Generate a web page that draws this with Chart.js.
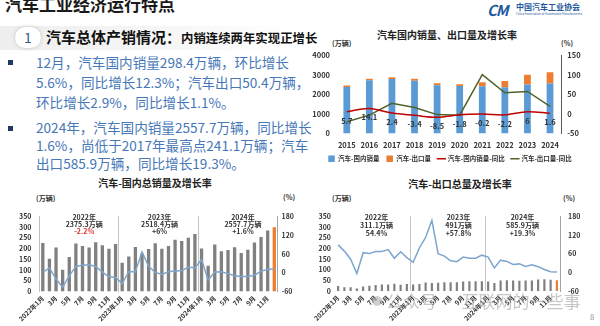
<!DOCTYPE html>
<html>
<head>
<meta charset="utf-8">
<script src="https://cdn.jsdelivr.net/npm/chart.js@4.4.1/dist/chart.umd.min.js"></script>
<style>
body{margin:0;width:600px;height:326px;background:#fff;position:relative;overflow:hidden;font-family:'Noto Sans CJK SC','Noto Sans',sans-serif;}
.abs{position:absolute;white-space:nowrap;}
canvas{position:absolute;}
.para{position:absolute;left:36px;color:#4677b8;font-size:13.6px;white-space:nowrap;}
.bul{position:absolute;left:8px;width:5px;height:5px;background:#1f3864;}
.ttl{position:absolute;font-size:10px;font-weight:bold;color:#222;white-space:nowrap;transform:translateX(-50%);}
.unit{position:absolute;font-size:7px;font-weight:bold;color:#333;white-space:nowrap;}
</style>
</head>
<body>
<div class="abs" style="left:5px;top:-6px;font-size:17px;font-weight:bold;color:#1a1a1a;line-height:20px;">汽车工业经济运行特点</div>
<div class="abs" style="left:0;top:26px;width:300px;height:24px;background:linear-gradient(to right,#eeeeee,#f7f7f7 60%,#ffffff);"></div>
<div class="abs" style="left:15px;top:27px;width:26px;height:21px;border-radius:11px;background:#fff;box-shadow:0 0 4px rgba(0,0,0,0.18);"></div>
<div class="abs" style="left:24px;top:28px;font-size:14px;color:#3a5a8a;line-height:18px;">1</div>
<div class="abs" style="left:46px;top:28px;font-size:15px;font-weight:bold;color:#111;line-height:18px;">汽车总体产销情况：<span style="font-size:12.4px;">内销连续两年实现正增长</span></div>

<div class="bul" style="top:60px;"></div>
<div class="para" style="top:52px;line-height:20px;color:#4677b8;">12月，汽车国内销量298.4万辆，环比增长<br>5.6%，同比增长12.3%；汽车出口50.4万辆，<br>环比增长2.9%，同比增长1.1%。</div>
<div class="bul" style="top:126px;"></div>
<div class="para" style="top:118px;line-height:18px;color:#4677b8;">2024年，汽车国内销量2557.7万辆，同比增长<br>1.6%，尚低于2017年最高点241.1万辆；汽车<br>出口585.9万辆，同比增长19.3%。</div>

<div class="abs" style="left:487px;top:-1px;font-size:15px;font-weight:bold;font-style:italic;color:#1f5a9e;letter-spacing:-1px;">CM</div>
<div class="abs" style="left:516px;top:1px;font-size:8px;font-weight:bold;color:#1f5a9e;">中国汽车工业协会</div>
<div class="abs" style="left:516px;top:12px;font-size:3px;color:#1f5a9e;">China Association of Automobile Manufacturers</div>

<div class="ttl" style="left:447px;top:27px;">汽车国内销量、出口量及增长率</div>
<div class="unit" style="left:332px;top:38px;">(万辆)</div>
<div class="unit" style="left:561px;top:38px;">(%)</div>
<canvas id="topChart" width="300" height="127" style="left:300px;top:45px;"></canvas>

<div class="ttl" style="left:155px;top:175px;">汽车-国内总销量及增长率</div>
<div class="unit" style="left:36px;top:193px;">(万辆)</div>
<div class="unit" style="left:283px;top:192px;">(%)</div>
<canvas id="domChart" width="300" height="122" style="left:0px;top:204px;"></canvas>

<div class="ttl" style="left:460px;top:176px;">汽车-出口总量及增长率</div>
<div class="unit" style="left:332px;top:193px;">(万辆)</div>
<div class="unit" style="left:563px;top:193px;">(%)</div>
<canvas id="expChart" width="300" height="122" style="left:300px;top:204px;"></canvas>

<div class="abs" style="left:372px;top:296px;width:10px;height:10px;border-radius:5px;background:rgba(170,170,170,0.55);"></div>
<div class="abs" style="left:386px;top:290px;font-size:17px;color:rgba(160,160,160,0.6);line-height:22px;">公众号 · 互联网的一些事</div>
<div class="abs" style="left:590px;top:311px;font-size:8px;color:#999;">8</div>

<script>
const FONT = "'Noto Sans CJK SC','Noto Sans',sans-serif";
Chart.defaults.font.family = FONT;
Chart.defaults.font.size = 7;
Chart.defaults.font.weight = 'bold';
Chart.defaults.color = '#333';
Chart.defaults.animation = false;

// 年度数据
const years = ['2015','2016','2017','2018','2019','2020','2021','2022','2023','2024'];
const domesticSales = [2387, 2732, 2799, 2704, 2475, 2432, 2426, 2375.3, 2518.4, 2557.7];
const exportSales = [72.8, 70.8, 89.1, 104.1, 102.4, 99.5, 201.5, 311.1, 491, 585.9];
const domesticGrowth = [5.7, 14.1, 2.4, -3.4, -8.5, -1.8, -0.2, -2.2, 6, 1.6];
const exportGrowth = [-20, -3, 27.5, 16.8, -1.6, -2.9, 101.1, 54.4, 57.8, 19.3];

// 月度数据 2022.1 - 2024.12
const monthLabels = [
  '2022年1月','2月','3月','4月','5月','6月','7月','8月','9月','10月','11月','12月',
  '2023年1月','2月','3月','4月','5月','6月','7月','8月','9月','10月','11月','12月',
  '2024年1月','2月','3月','4月','5月','6月','7月','8月','9月','10月','11月','12月'
];
const monthlyDomestic = [
  226, 152, 204, 101, 160, 223, 211, 205, 229, 215, 199, 221,
  134, 163, 207, 178, 197, 224, 199, 212, 240, 235, 250, 267,
  200, 120, 219, 187, 193, 206, 179, 194, 228, 253, 284, 298.4
];
const monthlyDomesticGrowth = [
  1, 15, -20, -46, -10, 20, 24, 25, 20, 2, -13, -15,
  -35, 3, 3, 66, 20, 1, -6, 3, 5, 6, 18, 15,
  42, -23, 2, 3, -3, -10, -12, -12, -8, 5, 10, 12.3
];
const monthlyExport = [
  23.1, 17.9, 17.9, 11.9, 21.0, 24.9, 28.5, 30.8, 30.1, 33.7, 29.3, 33.1,
  30.1, 32.9, 39.4, 37.6, 38.9, 41.1, 40.7, 41.3, 44.4, 45.9, 45.9, 45.9,
  44.3, 37.7, 49.4, 50.2, 49.2, 48.5, 48.6, 49.3, 53.9, 55.2, 52.7, 50.4
];
const monthlyExportGrowth = [
  88, 68, 42, -4, 63, 60, 67, 67, 73, 45, 66, 47,
  32, 78, 112, 167, 60, 52, 37, 34, 49, 45, 45, 55,
  49, 14, 39, 35, 25, 27, 19, 24, 18, 9, 2, 1.1
];
const domesticNotes = [['2022年','2375.3万辆','-2.2%'], ['2023年','2518.4万辆','+6%'], ['2024年','2557.7万辆','+1.6%']];
const exportNotes = [['2022年','311.1万辆','54.4%'], ['2023年','491万辆','+57.8%'], ['2024年','585.9万辆','+19.3%']];

const BLUE = '#5b9bd5', ORANGE = '#ed7d31', RED = '#c00000', GREEN = '#4f6228';
const GRAY = '#808080', LINEBLUE = '#7da6ce';

const fixWidth = w => s => { s.width = w; };
const fixHeight = h => s => { s.height = h; };
const plain = v => v;
const NOGRID = { display: false, drawTicks: false };

// 折线下方的数据标签
const pointLabels = {
  id: 'pointLabels',
  afterDatasetsDraw(chart, args, opts) {
    const ds = chart.data.datasets[opts.datasetIndex];
    const meta = chart.getDatasetMeta(opts.datasetIndex);
    const c = chart.ctx;
    c.save();
    c.font = 'bold 7.5px ' + FONT;
    c.fillStyle = '#333';
    c.textAlign = 'center';
    c.textBaseline = 'middle';
    meta.data.forEach((pt, i) => c.fillText(String(ds.data[i]), pt.x, pt.y + opts.offset));
    c.restore();
  }
};

// 每年的汇总注释
const yearNotes = {
  id: 'yearNotes',
  afterDraw(chart, args, opts) {
    const x = chart.scales.x;
    const top = chart.chartArea.top;
    const c = chart.ctx;
    c.save();
    c.font = 'bold 7px ' + FONT;
    c.textAlign = 'center';
    c.textBaseline = 'middle';
    opts.notes.forEach((lines, k) => {
      const cx = x.getPixelForValue(k * 12 + 5.5) + opts.shift[k];
      lines.forEach((t, j) => {
        c.fillStyle = (j === 2 && opts.red[k]) ? '#e03030' : '#333';
        c.fillText(t, cx, top + opts.dy + j * opts.gap);
      });
    });
    c.restore();
  }
};

const legendSort = (a, b) => a.datasetIndex - b.datasetIndex;

new Chart(document.getElementById('topChart'), {
  type: 'bar',
  plugins: [pointLabels],
  data: {
    labels: years,
    datasets: [
      { label: '汽车-国内销量', data: domesticSales, backgroundColor: BLUE, stack: 's', order: 2, barPercentage: 0.3, categoryPercentage: 1, pointStyle: 'rect' },
      { label: '汽车-出口量', data: exportSales, backgroundColor: ORANGE, stack: 's', order: 2, barPercentage: 0.3, categoryPercentage: 1, pointStyle: 'rect' },
      { type: 'line', label: '汽车-国内销量-同比', data: domesticGrowth, yAxisID: 'y1', borderColor: RED, backgroundColor: RED, borderWidth: 1.5, pointRadius: 0, tension: 0.35, order: 0, pointStyle: 'line' },
      { type: 'line', label: '汽车-出口量-同比', data: exportGrowth, yAxisID: 'y1', borderColor: GREEN, backgroundColor: GREEN, borderWidth: 1.5, pointRadius: 0, tension: 0, order: 1, pointStyle: 'line' }
    ]
  },
  options: {
    responsive: false,
    layout: { padding: { top: 7 } },
    plugins: {
      legend: {
        position: 'bottom',
        labels: { usePointStyle: true, boxHeight: 7, padding: 7, sort: legendSort, font: { size: 6.5 } }
      },
      tooltip: { enabled: false },
      pointLabels: { datasetIndex: 2, offset: 9 }
    },
    scales: {
      x: {
        stacked: true,
        grid: NOGRID,
        border: { display: false },
        ticks: { padding: 7, minRotation: 0, maxRotation: 0, autoSkip: false, font: { size: 7.5 } },
        afterFit: fixHeight(15)
      },
      y: {
        stacked: true,
        min: 0, max: 4000,
        ticks: { stepSize: 1000, padding: 5.5, autoSkip: false, callback: plain, font: { size: 7.5 } },
        grid: NOGRID,
        border: { display: false },
        afterFit: fixWidth(35.5)
      },
      y1: {
        position: 'right',
        min: -50, max: 150,
        ticks: { stepSize: 50, padding: 6, autoSkip: false, callback: plain, font: { size: 7.5 } },
        grid: NOGRID,
        border: { display: true, color: '#595959' },
        afterFit: fixWidth(38.7)
      }
    }
  }
});

const monthTicks = function (v, i) { return i % 2 === 0 ? this.getLabelForValue(v) : ''; };
const sepColor = c => (c.index === 12 || c.index === 24) ? '#c4c4c4' : 'rgba(0,0,0,0)';
const lastOrange = arr => arr.map((v, i) => i === arr.length - 1 ? ORANGE : GRAY);

new Chart(document.getElementById('domChart'), {
  type: 'bar',
  plugins: [yearNotes],
  data: {
    labels: monthLabels,
    datasets: [
      { label: '国内销量', data: monthlyDomestic, backgroundColor: lastOrange(monthlyDomestic), barPercentage: 0.5, categoryPercentage: 1, order: 2 },
      { type: 'line', label: '同比', data: monthlyDomesticGrowth, yAxisID: 'y1', borderColor: LINEBLUE, borderWidth: 1.5, pointRadius: 0, tension: 0, order: 0 }
    ]
  },
  options: {
    responsive: false,
    layout: { padding: { top: 8 } },
    plugins: {
      legend: { display: false },
      tooltip: { enabled: false },
      yearNotes: { notes: domesticNotes, shift: [5, 1, 5], red: [true, false, false], dy: 1, gap: 7.3 }
    },
    scales: {
      x: {
        grid: { offset: true, drawTicks: false, color: sepColor },
        border: { display: false },
        ticks: { autoSkip: false, minRotation: 45, maxRotation: 45, padding: 3, font: { size: 6.5 }, callback: monthTicks },
        afterFit: fixHeight(34.5)
      },
      y: {
        min: 0, max: 350,
        ticks: { stepSize: 50, padding: 8, autoSkip: false, callback: plain },
        grid: NOGRID,
        border: { display: true, color: '#bfbfbf' },
        afterFit: fixWidth(39.5)
      },
      y1: {
        position: 'right',
        min: -60, max: 180,
        ticks: { stepSize: 60, padding: 4, autoSkip: false, callback: plain },
        grid: NOGRID,
        border: { display: true, color: '#a6a6a6' },
        afterFit: fixWidth(22.4)
      }
    }
  }
});

new Chart(document.getElementById('expChart'), {
  type: 'bar',
  plugins: [yearNotes],
  data: {
    labels: monthLabels,
    datasets: [
      { label: '出口量', data: monthlyExport, backgroundColor: lastOrange(monthlyExport), barPercentage: 0.35, categoryPercentage: 1, order: 2 },
      { type: 'line', label: '同比', data: monthlyExportGrowth, yAxisID: 'y1', borderColor: LINEBLUE, borderWidth: 1.5, pointRadius: 0, tension: 0, order: 0 }
    ]
  },
  options: {
    responsive: false,
    layout: { padding: { top: 8.7 } },
    plugins: {
      legend: { display: false },
      tooltip: { enabled: false },
      yearNotes: { notes: exportNotes, shift: [4, 11, 0], red: [false, false, false], dy: 1.6, gap: 7.8 }
    },
    scales: {
      x: {
        grid: { offset: true, drawTicks: false, color: sepColor },
        border: { display: false },
        ticks: { autoSkip: false, minRotation: 45, maxRotation: 45, padding: 3, font: { size: 6.5 }, callback: monthTicks },
        afterFit: fixHeight(35)
      },
      y: {
        min: 0, max: 350,
        ticks: { stepSize: 50, padding: 4, autoSkip: false, callback: plain },
        grid: NOGRID,
        border: { display: false },
        afterFit: fixWidth(35)
      },
      y1: {
        position: 'right',
        min: -60, max: 180,
        ticks: { stepSize: 60, padding: 8, autoSkip: false, callback: plain },
        grid: NOGRID,
        border: { display: true, color: '#a6a6a6' },
        afterFit: fixWidth(40)
      }
    }
  }
});
</script>
</body>
</html>
